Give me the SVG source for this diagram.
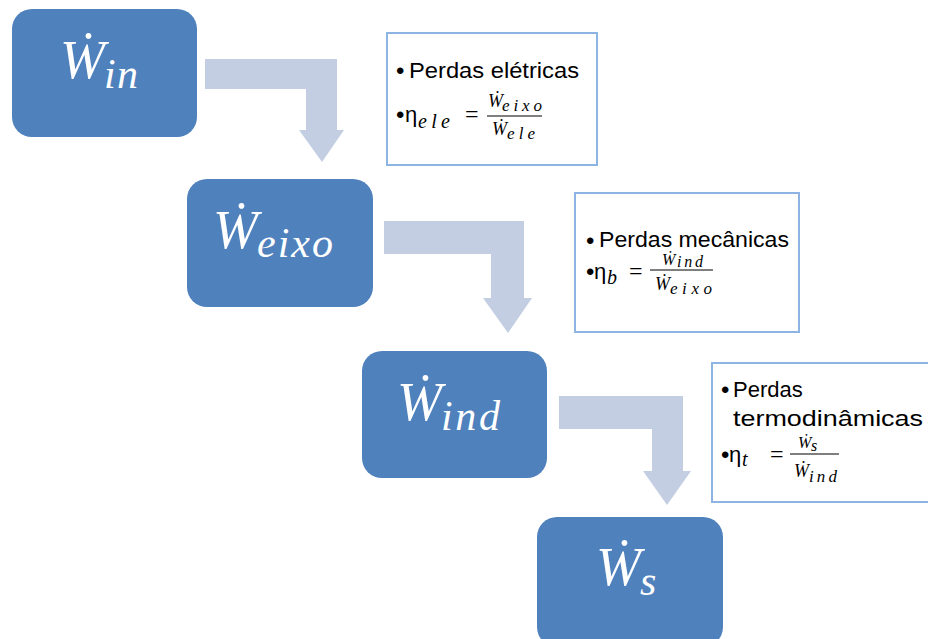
<svg xmlns="http://www.w3.org/2000/svg" width="928" height="639" viewBox="0 0 928 639">
<style>
.node{fill:#4F81BD}
.arrow{fill:#C3CEE3}
.note{fill:#FFFFFF;stroke:#8EB4E3;stroke-width:2}
.big{font-family:"Liberation Serif","DejaVu Serif",serif;font-style:italic;fill:#FFFFFF}
.txt{font-family:"Liberation Sans",Arial,sans-serif;font-size:22px;fill:#000000}
.bul{font-family:"Liberation Sans",Arial,sans-serif;font-size:24px;fill:#000000}
.m{font-family:"Liberation Serif","DejaVu Serif",serif;font-style:italic;fill:#000000}
.eq{font-family:"Liberation Serif","DejaVu Serif",serif;font-size:24px;fill:#000000}
.bar{stroke:#000000;stroke-width:1.2}
</style>
<g id="connectors">
<path class="arrow" d="M205,59 L337,59 L337,130 L344,130 L322,162 L299,130 L306,130 L306,89 L205,89 Z"/>
<path class="arrow" d="M384,221 L524,221 L524,298 L532,298 L508,333 L483,298 L491,298 L491,254 L384,254 Z"/>
<path class="arrow" d="M559,396 L683,396 L683,471 L691,471 L667,505 L643,471 L652,471 L652,429 L559,429 Z"/>
</g>
<g id="node-win">
<rect class="node" x="12" y="9" width="185" height="128" rx="20"/>
<text class="big" x="60" y="78" font-size="54">Ẇ</text>
<text class="big" x="104" y="88" font-size="42" textLength="34" lengthAdjust="spacing">in</text>
</g>
<g id="node-weixo">
<rect class="node" x="187" y="179" width="186" height="128" rx="20"/>
<text class="big" x="213" y="248" font-size="54">Ẇ</text>
<text class="big" x="257" y="257" font-size="42" textLength="76" lengthAdjust="spacing">eixo</text>
</g>
<g id="node-wind">
<rect class="node" x="362" y="351" width="185" height="127" rx="20"/>
<text class="big" x="397" y="420" font-size="54">Ẇ</text>
<text class="big" x="441" y="430" font-size="42" textLength="59" lengthAdjust="spacing">ind</text>
</g>
<g id="node-ws">
<rect class="node" x="537" y="517" width="186" height="130" rx="20"/>
<text class="big" x="596" y="585" font-size="54">Ẇ</text>
<text class="big" x="640" y="595" font-size="42">s</text>
</g>
<g id="note-ele">
<rect class="note" x="387" y="33" width="210" height="132"/>
<text class="bul" x="396" y="79">•</text>
<text class="txt" x="409" y="78" textLength="170" lengthAdjust="spacingAndGlyphs">Perdas elétricas</text>
<text class="bul" x="396" y="123">•</text>
<text class="txt" x="405" y="122" font-size="24">η</text>
<text class="m" x="418" y="128" font-size="20" textLength="32" lengthAdjust="spacing">ele</text>
<text class="eq" x="465" y="122">=</text>
<line class="bar" x1="487" y1="116" x2="542" y2="116"/>
<text class="m" x="488" y="107" font-size="18">Ẇ</text>
<text class="m" x="502" y="111" font-size="17" textLength="40" lengthAdjust="spacing">eixo</text>
<text class="m" x="492" y="135" font-size="18">Ẇ</text>
<text class="m" x="507" y="139" font-size="17" textLength="28" lengthAdjust="spacing">ele</text>
</g>
<g id="note-mec">
<rect class="note" x="575" y="193" width="224" height="139"/>
<text class="bul" x="586" y="249">•</text>
<text class="txt" x="599" y="247" textLength="190" lengthAdjust="spacingAndGlyphs">Perdas mecânicas</text>
<text class="bul" x="586" y="280">•</text>
<text class="txt" x="594" y="279" font-size="24">η</text>
<text class="m" x="607" y="284" font-size="20">b</text>
<text class="eq" x="629" y="279">=</text>
<line class="bar" x1="650" y1="270" x2="713" y2="270"/>
<text class="m" x="662" y="265" font-size="16">Ẇ</text>
<text class="m" x="677" y="267" font-size="16" textLength="26" lengthAdjust="spacing">ind</text>
<text class="m" x="655" y="290" font-size="18">Ẇ</text>
<text class="m" x="670" y="294" font-size="17" textLength="42" lengthAdjust="spacing">eixo</text>
</g>
<g id="note-termo">
<rect class="note" x="712" y="363" width="220" height="139"/>
<text class="bul" x="721" y="398">•</text>
<text class="txt" x="733" y="397">Perdas</text>
<text class="txt" x="733" y="426" textLength="190" lengthAdjust="spacingAndGlyphs">termodinâmicas</text>
<text class="bul" x="721" y="463">•</text>
<text class="txt" x="729" y="462" font-size="24">η</text>
<text class="m" x="742" y="466" font-size="20">t</text>
<text class="eq" x="770" y="462">=</text>
<line class="bar" x1="790" y1="454" x2="839" y2="454"/>
<text class="m" x="798" y="448" font-size="16">Ẇ</text>
<text class="m" x="811" y="451" font-size="16">s</text>
<text class="m" x="794" y="477" font-size="18">Ẇ</text>
<text class="m" x="809" y="482" font-size="17" textLength="28" lengthAdjust="spacing">ind</text>
</g>
</svg>
